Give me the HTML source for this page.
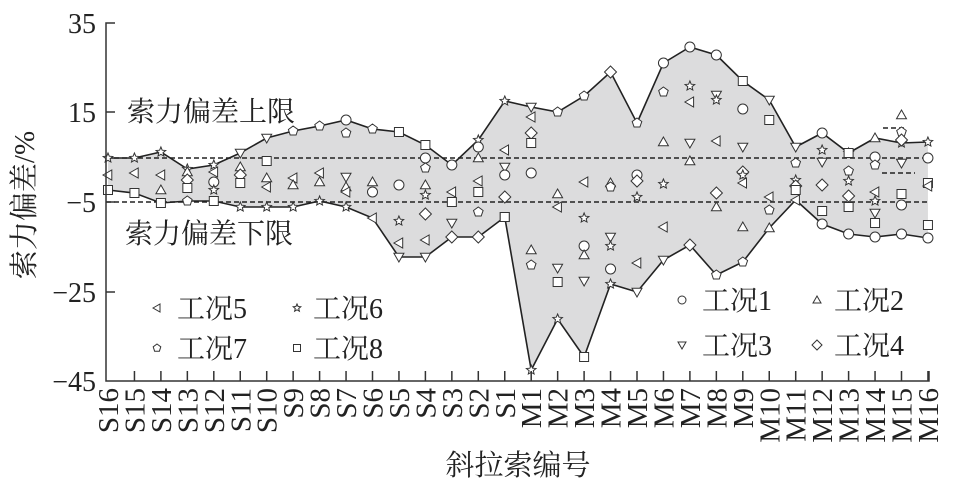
<!DOCTYPE html>
<html><head><meta charset="utf-8"><style>
html,body{margin:0;padding:0;background:#fff;}
svg{display:block;}
text{font-family:"Liberation Serif","Noto Serif CJK SC",serif;fill:#222;}
.cj{font-family:"Liberation Serif","Noto Serif CJK SC",serif;}
</style></head><body>
<svg id="s" width="961" height="493" viewBox="0 0 961 493" xmlns="http://www.w3.org/2000/svg">
<g id="fillg"></g>
<line x1="106" y1="158" x2="929" y2="158" stroke="#222" stroke-width="1.5" stroke-dasharray="5,3"/>
<line x1="106" y1="202" x2="929" y2="202" stroke="#222" stroke-width="1.5" stroke-dasharray="5,3"/>
<line x1="883" y1="128" x2="907" y2="128" stroke="#222" stroke-width="1.5" stroke-dasharray="5,3"/>
<line x1="882" y1="173" x2="915" y2="173" stroke="#222" stroke-width="1.5" stroke-dasharray="5,3"/>
<g id="lines"></g>
<g id="marks"></g>
<g id="axis" stroke="#333" stroke-width="1.5" fill="none">
<polyline points="115,23 106,23 106,381 929,381 929,371"/>
<line x1="106" y1="112" x2="115" y2="112"/>
<line x1="106" y1="202" x2="115" y2="202"/>
<line x1="106" y1="292" x2="115" y2="292"/>
</g>
<g font-size="28" text-anchor="end">
<text x="96" y="33">35</text>
<text x="96" y="122">15</text>
<text x="96" y="212">−5</text>
<text x="96" y="302">−25</text>
<text x="96" y="391">−45</text>
</g>
<text class="cj" x="0" y="0" font-size="29" text-anchor="middle" transform="translate(34,205) rotate(-90)">索力偏差/%</text>
<text class="cj" x="127" y="121" font-size="28">索力偏差上限</text>
<text class="cj" x="125" y="243" font-size="28">索力偏差下限</text>
<text class="cj" x="518" y="475" font-size="29" text-anchor="middle">斜拉索编号</text>
<g id="xl" font-size="29" text-anchor="end"></g>
<g class="cj" font-size="28">
<text x="177" y="318">工况5</text><text x="313" y="318">工况6</text>
<text x="177" y="358">工况7</text><text x="313" y="358">工况8</text>
<text x="702" y="310">工况1</text><text x="834" y="310">工况2</text>
<text x="702" y="355">工况3</text><text x="834" y="355">工况4</text>
</g>
</svg>
<script>
var NS="http://www.w3.org/2000/svg";
function X(i){return 108+i*26.45;}
var names=[];for(var i=16;i>=1;i--)names.push("S"+i);for(var i=1;i<=16;i++)names.push("M"+i);
var up=[158,158,152,169,165,153,138,131,126,120,129,132,145,165,140,101,107,112,96,72,123,63,47,55,81,100,147,133,153,138,143,142];
var lo=[190,193,203,201,201,207,207,207,201,207,218,257,257,237,237,217,370,319,357,284,292,260,245,275,262,228,200,224,234,237,234,238];
var pts=[];for(var i=0;i<32;i++)pts.push(X(i)+","+up[i]);
var pl=[];for(var i=31;i>=0;i--)pl.push(X(i)+","+lo[i]);
function el(n,a,p){var e=document.createElementNS(NS,n);for(var k in a)e.setAttribute(k,a[k]);p.appendChild(e);return e;}
el("polygon",{points:pts.concat(pl).join(" "),fill:"#dcdcdd",stroke:"none"},document.getElementById("fillg"));
var L=document.getElementById("lines");
el("polyline",{points:pts.join(" "),fill:"none",stroke:"#222","stroke-width":1.6},L);
el("polyline",{points:pl.slice().reverse().join(" "),fill:"none",stroke:"#222","stroke-width":1.6},L);
var M=document.getElementById("marks");
function mk(t,x,y,r){r=r||5;var a={fill:"#fff",stroke:"#333","stroke-width":1};
 if(t=="o"){a.cx=x;a.cy=y;a.r=r;el("circle",a,M);return;}
 if(t=="s"){a.x=x-r+0.5;a.y=y-r+0.5;a.width=2*r-1;a.height=2*r-1;el("rect",a,M);return;}
 var p;
 if(t=="u")p=[[x,y-r],[x+r,y+r*0.75],[x-r,y+r*0.75]];
 else if(t=="d")p=[[x,y+r],[x+r,y-r*0.75],[x-r,y-r*0.75]];
 else if(t=="l")p=[[x-r,y],[x+r*0.75,y-r],[x+r*0.75,y+r]];
 else if(t=="D")p=[[x,y-r-1],[x+r+1,y],[x,y+r+1],[x-r-1,y]];
 else if(t=="p"){p=[];for(var k=0;k<5;k++){var an=-Math.PI/2+k*2*Math.PI/5;p.push([x+r*Math.cos(an),y+r*Math.sin(an)]);}}
 else if(t=="*"){p=[];for(var k=0;k<10;k++){var an=-Math.PI/2+k*Math.PI/5;var rr=k%2?r*0.45:r;p.push([x+rr*Math.cos(an),y+rr*Math.sin(an)]);}}
 a.points=p.map(function(q){return q[0].toFixed(1)+","+q[1].toFixed(1)}).join(" ");el("polygon",a,M);}
var ut="*,*,*,*,*,d,d,p,p,o,p,s,s,o,*,*,d,p,p,D,p,o,o,o,s,d,d,o,*,u,*,*".split(",");
var lt="s,s,s,p,s,*,*,*,*,*,l,d,d,D,D,s,*,*,s,*,d,d,D,p,p,u,l,o,o,o,o,o".split(",");
for(var i=0;i<32;i++){mk(ut[i],X(i),up[i]);mk(lt[i],X(i),lo[i]);}
var inn=[
[0,"l",175],[1,"l",173],[2,"l",175],[2,"u",190],[3,"u",172],[3,"D",180],[3,"s",188],[4,"l",172],[4,"o",182],[4,"*",190],
[5,"u",167],[5,"D",175],[5,"s",183],[6,"s",161],[6,"u",178],[6,"l",187],[7,"l",178],[7,"u",185],[8,"l",173],[8,"u",182],
[9,"d",177],[9,"u",187],[9,"l",192],[9,"p",133],[10,"u",182],[10,"o",192],[11,"o",185],[11,"*",221],[11,"l",243],
[12,"u",185],[12,"*",195],[12,"D",214],[12,"l",240],[12,"o",158],[12,"p",168],[13,"l",192],[13,"s",202],[13,"d",223],
[14,"l",181],[14,"s",192],[14,"p",212],[14,"o",147],[14,"u",158],[15,"l",150],[15,"d",167],[15,"o",175],[15,"D",197],[15,"s",217],
[16,"l",117],[16,"D",133],[16,"s",143],[16,"o",173],[16,"u",250],[16,"p",265],[17,"u",194],[17,"l",207],[17,"d",268],[17,"s",282],
[18,"l",182],[18,"*",218],[18,"o",246],[18,"u",255],[18,"d",281],[19,"u",183],[19,"p",187],[19,"d",237],[19,"*",246],[19,"o",269],
[20,"o",175],[20,"D",181],[20,"*",197],[20,"l",263],[21,"p",92],[21,"u",142],[21,"*",184],[21,"l",227],
[22,"*",86],[22,"l",102],[22,"d",143],[22,"u",161],[23,"d",95],[23,"*",100],[23,"l",141],[23,"D",193],[23,"u",207],
[24,"o",109],[24,"d",147],[24,"D",172],[24,"*",175],[24,"l",183],[24,"u",227],[25,"s",120],[25,"l",197],[25,"p",210],
[26,"p",163],[26,"*",180],[26,"D",186],[26,"s",190],[27,"*",150],[27,"d",162],[27,"D",185],[27,"s",211],
[28,"s",153],[28,"p",171],[28,"*",181],[28,"D",196],[28,"s",207],[29,"o",157],[29,"p",165],[29,"l",192],[29,"*",201],[29,"d",213],[29,"s",223],
[30,"u",115],[30,"p",132],[30,"D",140],[30,"d",163],[30,"s",194],[30,"o",205],[31,"o",158],[31,"s",183],[31,"l",186],[31,"s",225]];
inn.forEach(function(q){mk(q[1],X(q[0]),q[2]);});
mk("l",157,308,4);mk("*",297,308,4);mk("p",157,348,4);mk("s",297,348,4);
mk("o",682,300,4);mk("u",817,300,4);mk("d",682,345,4);mk("D",817,345,4);
var A=document.getElementById("axis");
for(var i=1;i<32;i++)el("line",{x1:X(i),y1:381,x2:X(i),y2:371},A);
var xl=document.getElementById("xl");
for(var i=0;i<32;i++){var t=el("text",{x:0,y:0,transform:"translate("+(X(i)+10)+",388) rotate(-90)"},xl);t.textContent=names[i];}
</script>
</body></html>
